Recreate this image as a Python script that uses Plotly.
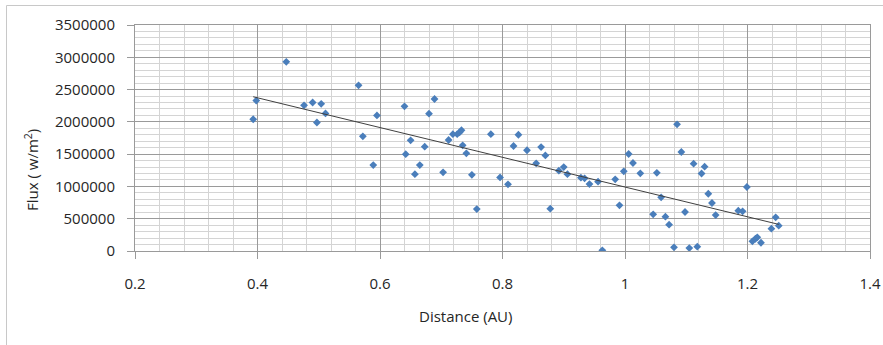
import numpy as np
import plotly.graph_objects as go

distance_au = [0.393, 0.398, 0.447, 0.476, 0.490, 0.497, 0.504, 0.511, 0.565, 0.572,
               0.589, 0.595, 0.640, 0.642, 0.650, 0.657, 0.665, 0.673, 0.680, 0.689,
               0.703, 0.712, 0.719, 0.726, 0.730, 0.733, 0.735, 0.741, 0.750, 0.758,
               0.781, 0.796, 0.809, 0.818, 0.826, 0.840, 0.855, 0.863, 0.870, 0.878,
               0.892, 0.900, 0.906, 0.928, 0.934, 0.942, 0.956, 0.963, 0.984, 0.991,
               0.998, 1.006, 1.013, 1.025, 1.046, 1.052, 1.059, 1.066, 1.072, 1.080,
               1.085, 1.092, 1.098, 1.105, 1.112, 1.118, 1.125, 1.130, 1.136, 1.142,
               1.148, 1.185, 1.192, 1.199, 1.208, 1.213, 1.216, 1.222, 1.239, 1.246,
               1.251]
flux = [2040000, 2330000, 2930000, 2256000, 2300000, 1990000, 2280000, 2130000, 2566000, 1776000,
        1330000, 2100000, 2240000, 1500000, 1714000, 1190000, 1330000, 1615000, 2126000, 2354000,
        1219000, 1719000, 1810000, 1810000, 1838000, 1870000, 1637000, 1513000, 1180000, 650000,
        1810000, 1140000, 1033000, 1626000, 1800000, 1560000, 1358000, 1610000, 1480000, 655000,
        1244000, 1300000, 1190000, 1135000, 1126000, 1037000, 1073000, 10000, 1110000, 708000,
        1234000, 1502000, 1363000, 1203000, 568000, 1210000, 832000, 531000, 407000, 57000,
        1962000, 1533000, 604000, 46000, 1352000, 67000, 1200000, 1306000, 887000, 743000,
        557000, 624000, 615000, 991000, 150000, 190000, 212000, 128000, 345000, 522000,
        392000]

x_ticks = [0.2, 0.4, 0.6, 0.8, 1.0, 1.2, 1.4]
x_tick_labels = ["0.2", "0.4", "0.6", "0.8", "1", "1.2", "1.4"]
y_ticks = [0, 500000, 1000000, 1500000, 2000000, 2500000, 3000000, 3500000]
y_tick_labels = [str(v) for v in y_ticks]

x_arr = np.array(distance_au)
y_arr = np.array(flux)
slope, intercept = np.polyfit(x_arr, y_arr, 1)
trend_x = np.array([x_arr.min(), x_arr.max()])
trend_y = slope * trend_x + intercept

FONT = "Open Sans"
TXT = "#262626"
MAJOR = "#9a9a9a"
MINOR = "#d4d4d4"

fig = go.Figure()
fig.add_trace(go.Scatter(
    x=distance_au, y=flux, mode="markers",
    marker=dict(symbol="diamond", size=6, color="#4A7EBB", line=dict(width=0)),
    showlegend=False, hoverinfo="x+y"))
fig.add_trace(go.Scatter(
    x=trend_x, y=trend_y, mode="lines",
    line=dict(color="#404040", width=1),
    showlegend=False, hoverinfo="skip"))

W, H = 883, 345
L, R, T, B = 135, 13, 25, 94
pw, ph = W - L - R, H - T - B

def px_to_paper_x(px):
    return (px - L) / pw

def px_to_paper_y(py):
    return (H - B - py) / ph

fig.update_layout(
    width=W, height=H,
    margin=dict(l=L, r=R, t=T, b=B, autoexpand=False),
    paper_bgcolor="white", plot_bgcolor="white",
    font=dict(family=FONT, size=15, color=TXT),
    xaxis=dict(
        range=[0.2, 1.4], tickvals=x_ticks, ticktext=x_tick_labels,
        showgrid=True, gridcolor=MAJOR, gridwidth=1,
        minor=dict(dtick=0.04, tick0=0.2, showgrid=True, gridcolor=MINOR, gridwidth=1),
        showline=True, linecolor=MAJOR, linewidth=1, mirror=True,
        ticks="outside", ticklen=7, tickcolor=MAJOR,
        ticklabelstandoff=12, zeroline=False, automargin=False,
        tickfont=dict(family=FONT, size=15, color=TXT)),
    yaxis=dict(
        range=[0, 3500000], tickvals=y_ticks, ticktext=y_tick_labels,
        showgrid=True, gridcolor=MAJOR, gridwidth=1,
        minor=dict(dtick=100000, tick0=0, showgrid=True, gridcolor=MINOR, gridwidth=1),
        showline=True, linecolor=MAJOR, linewidth=1, mirror=True,
        ticks="outside", ticklen=7, tickcolor=MAJOR,
        ticklabelstandoff=9, zeroline=False, automargin=False,
        tickfont=dict(family=FONT, size=15, color=TXT)),
    shapes=[dict(type="rect", xref="paper", yref="paper",
                 x0=px_to_paper_x(6.5), x1=px_to_paper_x(1000),
                 y0=px_to_paper_y(500), y1=px_to_paper_y(5.5),
                 line=dict(color="#c8c8c8", width=1), fillcolor="rgba(0,0,0,0)", layer="below")],
    annotations=[
        dict(text="Distance (AU)", xref="paper", yref="paper",
             x=px_to_paper_x(465), y=px_to_paper_y(316), xanchor="center", yanchor="middle",
             showarrow=False, font=dict(family=FONT, size=15, color=TXT)),
        dict(text="Flux ( w/m<sup>2</sup>)", xref="paper", yref="paper", textangle=-90,
             x=px_to_paper_x(31), y=px_to_paper_y(170), xanchor="center", yanchor="middle",
             showarrow=False, font=dict(family=FONT, size=15, color=TXT)),
    ],
)

fig.write_html("out.html")
